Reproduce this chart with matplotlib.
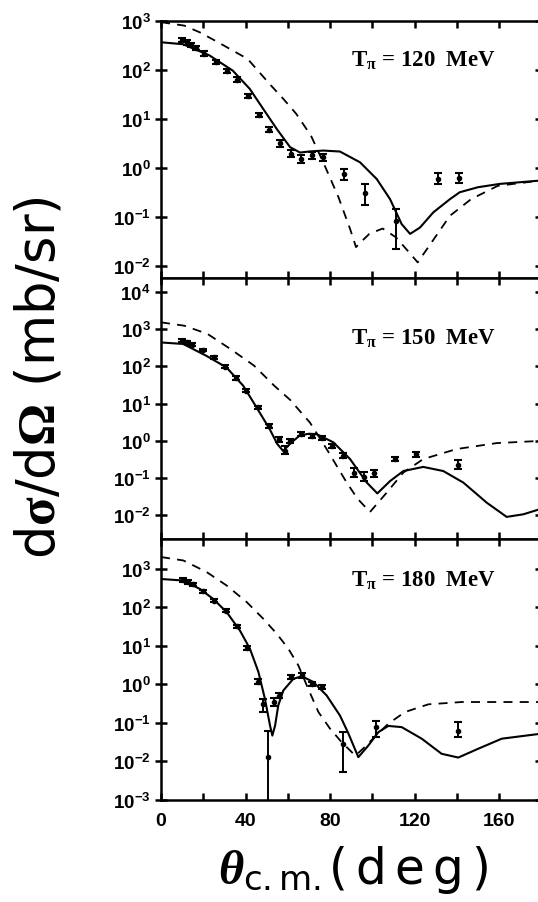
import numpy as np
import matplotlib
matplotlib.use("Agg")
import matplotlib.pyplot as plt
from matplotlib.ticker import FixedLocator, FuncFormatter, NullLocator

plt.rcParams['mathtext.fontset'] = 'custom'
plt.rcParams['mathtext.rm'] = 'DejaVu Sans'
plt.rcParams['mathtext.sf'] = 'Liberation Sans:bold'
plt.rcParams['mathtext.bf'] = 'Liberation Serif:bold'
plt.rcParams['mathtext.it'] = 'Liberation Serif:italic:bold'

# ---- T_pi = 120 MeV ----
th_120_solid = [0, 10.5, 23, 34, 42, 48.4, 54.8, 61.1, 65.8, 70, 76.8, 84.7, 94.2, 102.1,
                108.4, 113.9, 117.9, 122.6, 128.9, 136.8, 141.4, 150, 160.4, 180]
xs_120_solid = [363, 331, 195, 95.5, 40.7, 15.8, 6.17, 2.63, 2.04, 2.14, 2.24, 2.14, 1.29, 0.589,
                0.229, 0.0708, 0.0447, 0.0603, 0.123, 0.229, 0.316, 0.40, 0.468, 0.55]
th_120_dash = [0, 11, 18.5, 27, 41, 52, 58, 64, 71, 77.5, 84, 89.5, 92.3, 95, 98.6, 104.9, 111.2,
               117.5, 121.5, 127, 136.8, 146.8, 159.4, 180]
xs_120_dash = [933, 794, 575, 363, 166, 47.9, 25.1, 12.6, 4.5, 1.1, 0.25, 0.0562, 0.024, 0.0316,
               0.0447, 0.0575, 0.038, 0.0186, 0.0117, 0.0257, 0.105, 0.229, 0.427, 0.55]
th_120_data = [10.1, 12.2, 14.2, 16.6, 20.5, 26.0, 31.2, 35.9, 41.0, 46.2, 51.3, 56.3, 61.4,
               66.3, 71.3, 76.5, 86.6, 96.5, 111.0, 131.0, 141.0]
xs_120_data = [407, 363, 316, 282, 214, 145, 95.5, 63.1, 29.5, 12.0, 6.0, 3.16, 1.95,
               1.51, 1.78, 1.62, 0.74, 0.30, 0.083, 0.60, 0.62]
lo_120_data = [365, 325, 285, 255, 193, 130, 86, 57, 26.5, 10.8, 5.3, 2.7, 1.65,
               1.25, 1.5, 1.35, 0.56, 0.17, 0.022, 0.47, 0.48]
hi_120_data = [450, 400, 350, 310, 236, 160, 105, 70, 32.5, 13.2, 6.8, 3.7, 2.3,
               1.8, 2.1, 1.95, 0.93, 0.47, 0.145, 0.78, 0.78]

# ---- T_pi = 150 MeV ----
th_150_solid = [0, 10.5, 21.5, 31, 38.9, 45.2, 51.5, 55, 57.8, 61.8, 65.8, 70, 73.7, 81.6,
                89.5, 97.4, 102.4, 108.4, 114.7, 124.1, 133.6, 143.1, 154.2, 163.6, 171.5, 180]
xs_150_solid = [437, 398, 191, 93.3, 30.2, 7.94, 2.04, 0.83, 0.537, 0.912, 1.41, 1.55, 1.51, 0.912,
                0.324, 0.0759, 0.0389, 0.0832, 0.155, 0.2, 0.155, 0.0759, 0.0219, 0.00912, 0.0107, 0.0151]
th_150_dash = [0, 11, 22, 33, 44, 53.6, 61.1, 70.5, 78.4, 87.9, 93, 98.9, 106.8, 114.7,
               124.1, 139.9, 158.9, 180]
xs_150_dash = [1514, 1230, 741, 288, 105, 30.2, 12.6, 3.09, 0.603, 0.0759, 0.0282, 0.0123, 0.0407,
               0.141, 0.324, 0.603, 0.871, 1.0]
th_150_data = [9.8, 12.2, 14.5, 20.0, 25.2, 30.3, 35.4, 40.2, 45.7, 51.0, 55.9, 58.8, 61.1,
               66.3, 71.3, 76.1, 81.1, 86.0, 91.3, 96.3, 101.0, 110.9, 120.7, 140.4]
xs_150_data = [490, 437, 380, 275, 174, 98, 49, 22.4, 7.9, 2.5, 1.10, 0.54, 1.0,
               1.51, 1.35, 1.23, 0.74, 0.40, 0.141, 0.11, 0.135, 0.32, 0.44, 0.23]
lo_150_data = [440, 395, 345, 250, 157, 88, 44, 20, 7.1, 2.2, 0.95, 0.44, 0.87,
               1.33, 1.19, 1.08, 0.65, 0.35, 0.105, 0.083, 0.105, 0.28, 0.38, 0.175]
hi_150_data = [540, 480, 420, 300, 191, 108, 54, 24.8, 8.7, 2.8, 1.25, 0.73, 1.15,
               1.7, 1.52, 1.39, 0.84, 0.46, 0.19, 0.145, 0.17, 0.37, 0.50, 0.30]

# ---- T_pi = 180 MeV ----
th_180_solid = [0, 10.6, 18.5, 24.8, 31.1, 37.4, 42.1, 46.1, 49.2, 51.6, 52.7, 54, 55.5, 57.9,
                62.6, 66.6, 72.1, 78.4, 84.7, 88.5, 93.4, 98.1, 102.9, 107.6, 113.9, 123.4,
                132.8, 140.7, 150.2, 161.3, 180]
xs_180_solid = [537, 490, 295, 162, 74.1, 24.5, 8.32, 2.09, 0.417, 0.0851, 0.0468, 0.0851, 0.282, 0.692,
                1.38, 1.62, 1.15, 0.513, 0.155, 0.0562, 0.0129, 0.0257, 0.0575, 0.0832, 0.0776, 0.0389,
                0.0158, 0.0126, 0.0214, 0.0389, 0.0525]
th_180_dash = [0, 10.6, 21.6, 31.1, 40.6, 48.4, 54.8, 60.3, 65, 69.7, 74.5, 80, 85.5, 92, 96,
               102.9, 107.6, 115.5, 126.5, 142.3, 180]
xs_180_dash = [1995, 1622, 813, 363, 135, 50.1, 20.4, 8.32, 3.09, 0.759, 0.191, 0.0708, 0.0316,
               0.0141, 0.0224, 0.0537, 0.0955, 0.191, 0.302, 0.347, 0.347]
th_180_data = [10.6, 12.9, 15.3, 20.0, 25.2, 30.8, 35.8, 40.9, 45.8, 48.4, 50.8, 53.6, 55.9,
               61.5, 66.6, 71.3, 76.1, 86.0, 101.6, 140.7]
xs_180_data = [513, 447, 389, 257, 148, 81, 32, 8.7, 1.17, 0.30, 0.013, 0.35, 0.51,
               1.55, 1.70, 1.02, 0.85, 0.029, 0.078, 0.063]
lo_180_data = [460, 400, 350, 232, 133, 73, 29, 7.8, 1.0, 0.19, 1e-4, 0.28, 0.43,
               1.35, 1.48, 0.89, 0.74, 0.0054, 0.043, 0.043]
hi_180_data = [565, 495, 430, 283, 163, 89, 35, 9.6, 1.36, 0.42, 0.063, 0.43, 0.6,
               1.78, 1.95, 1.17, 0.98, 0.058, 0.115, 0.105]

panels = [
    ("120", th_120_solid, xs_120_solid, th_120_dash, xs_120_dash,
     th_120_data, xs_120_data, lo_120_data, hi_120_data, (10**-2.25, 1e3), range(-2, 4), 10**2.08),
    ("150", th_150_solid, xs_150_solid, th_150_dash, xs_150_dash,
     th_150_data, xs_150_data, lo_150_data, hi_150_data, (10**-2.62, 10**4.37), range(-2, 5), 10**2.60),
    ("180", th_180_solid, xs_180_solid, th_180_dash, xs_180_dash,
     th_180_data, xs_180_data, lo_180_data, hi_180_data, (1e-3, 10**3.78), range(-3, 4), 10**2.56),
]

W, H = 538, 903
fig = plt.figure(figsize=(W / 100, H / 100), dpi=100)
edges = [21.7, 279, 539.5, 801]
left, right = 161, 541.3

fmt = FuncFormatter(lambda v, p: r'$\mathsf{10^{%d}}$' % int(round(np.log10(v))))

for i, (energy, ts, ys, td, yd, tp, yp, lo, hi, ylim, decs, ytxt) in enumerate(panels):
    top, bot = edges[i], edges[i + 1]
    ax = fig.add_axes([left / W, 1 - bot / H, (right - left) / W, (bot - top) / H])
    ax.set_yscale('log')
    ax.set_xlim(0, 180)
    ax.set_ylim(*ylim)

    ax.plot(ts, ys, color='black', lw=1.5, zorder=3)
    ax.plot(td, yd, color='black', lw=1.3, ls=(0, (5, 4)), zorder=3)
    yp = np.array(yp)
    yerr = [yp - np.array(lo), np.array(hi) - yp]
    ax.errorbar(tp, yp, yerr=yerr, fmt='o', color='black', ms=3, elinewidth=1.4,
                capsize=2.8, capthick=1.5, zorder=4)

    ax.text(90, ytxt, r'$\mathbf{T_{\pi}}$ = ' + energy + '  MeV', fontsize=16.5,
            family='Liberation Serif', weight='bold', ha='left', va='baseline')

    ax.yaxis.set_major_locator(FixedLocator([10.0**d for d in decs]))
    ax.yaxis.set_minor_locator(NullLocator())
    ax.yaxis.set_major_formatter(fmt)
    ax.xaxis.set_major_locator(FixedLocator([0, 40, 80, 120, 160]))
    ax.xaxis.set_minor_locator(FixedLocator([20, 60, 100, 140, 180]))
    ax.tick_params(axis='y', which='both', direction='inout', length=9, width=1.8,
                   left=True, right=True, labelsize=13.5, pad=3)
    ax.tick_params(axis='x', which='both', direction='in', length=5, width=1.8,
                   top=True, bottom=True, labelsize=14, pad=9)
    for lab in ax.get_xticklabels():
        lab.set_fontweight('bold')
        lab.set_family('Liberation Sans')
    if i < 2:
        ax.tick_params(axis='x', labelbottom=False)
    for s in ax.spines.values():
        s.set_linewidth(1.8)

fig.text(40 / W, 1 - 378 / H, r'd$\mathbf{\sigma}$/d$\mathbf{\Omega}$ (mb/sr)', rotation=90,
         ha='center', va='center', fontsize=38, family='DejaVu Sans')
fig.text(353 / W, 1 - 870 / H, r'$\mathit{\theta}_{\mathrm{c.m.}}$(' + '\u2006d\u2006e\u2006g\u2006)',
         ha='center', va='center', fontsize=35, family='DejaVu Sans')

fig.savefig('out.png', dpi=100)
